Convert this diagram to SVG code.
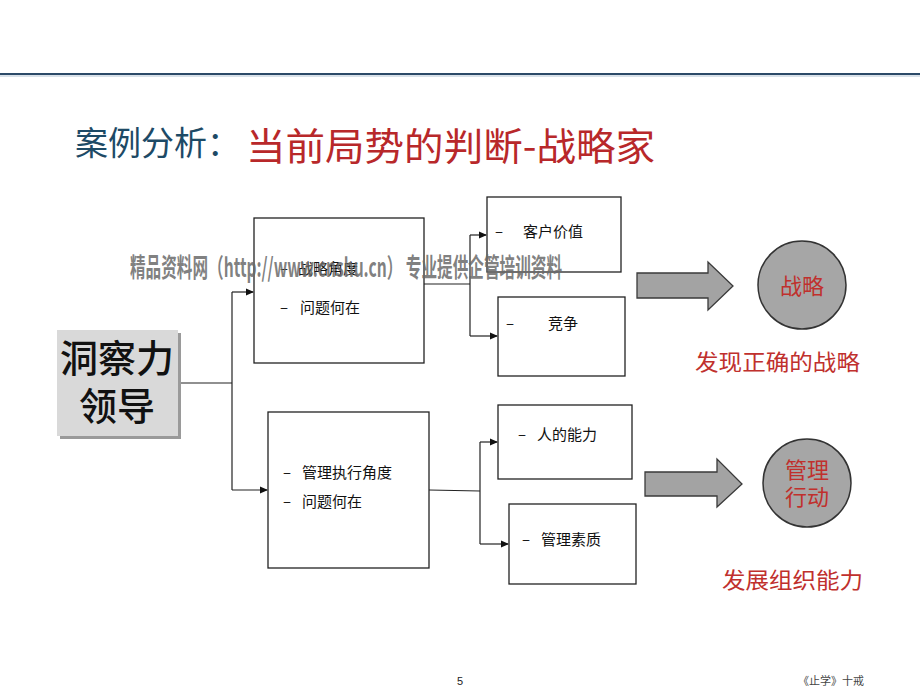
<svg xmlns="http://www.w3.org/2000/svg" width="920" height="690" viewBox="0 0 920 690">
<defs>
<marker id="ah" markerWidth="8" markerHeight="8" refX="7" refY="4" orient="auto" markerUnits="userSpaceOnUse">
<path d="M0,0.5 L8,4 L0,7.5 z" fill="#111"/>
</marker>
<style>
.cjk{font-family:"Noto Sans CJK SC","Liberation Sans",sans-serif;}
.box{fill:#fff;stroke:#222;stroke-width:1.3;}
.body{font-size:15px;fill:#111;}
.conn{fill:none;stroke:#222;stroke-width:1.2;}
.red{fill:#c0302d;}
.big{fill:#a3a3a3;stroke:#3a3a3a;stroke-width:1.3;}
</style>
</defs>
<rect width="920" height="690" fill="#fff"/>
<line x1="0" y1="74" x2="920" y2="74" stroke="#2c4a68" stroke-width="2.2"/>
<line x1="0" y1="76" x2="920" y2="76" stroke="#9fb4c8" stroke-width="0.8"/>

<g id="title" class="cjk">
<text x="75" y="155" font-size="33" fill="#1d4a66">案例分析：</text>
<text x="246" y="160" font-size="38" fill="#b8282a" textLength="409" lengthAdjust="spacingAndGlyphs">当前局势的判断-战略家</text>
</g>

<g id="connectors">
<polyline class="conn" points="178,383 232,383"/>
<polyline class="conn" points="232,292 232,490"/>
<polyline class="conn" points="232,292 253,292" marker-end="url(#ah)"/>
<polyline class="conn" points="232,490 267,490" marker-end="url(#ah)"/>
<polyline class="conn" points="424,284 470,284"/>
<polyline class="conn" points="470,235 470,336"/>
<polyline class="conn" points="470,235 486,235" marker-end="url(#ah)"/>
<polyline class="conn" points="470,336 497,336" marker-end="url(#ah)"/>
<polyline class="conn" points="429,490 480,491"/>
<polyline class="conn" points="480,442 480,544"/>
<polyline class="conn" points="480,442 497,442" marker-end="url(#ah)"/>
<polyline class="conn" points="480,544 508,544" marker-end="url(#ah)"/>
</g>

<g id="insight">
<rect x="60" y="333" width="121" height="106" fill="#9a9a9a"/>
<rect x="57" y="330" width="121" height="106" fill="#d9d9d9"/>
<text class="cjk" x="117" y="372" font-size="38" font-weight="500" text-anchor="middle" fill="#111">洞察力</text>
<text class="cjk" x="117" y="420" font-size="38" font-weight="500" text-anchor="middle" fill="#111">领导</text>
</g>

<g id="strategy-angle" class="cjk">
<rect class="box" x="254" y="218" width="170" height="145"/>
<text class="body" x="280" y="274">–</text>
<text class="body" x="298" y="274">战略角度</text>
<text class="body" x="280" y="313">–</text>
<text class="body" x="300" y="313">问题何在</text>
</g>

<g id="customer-value" class="cjk">
<rect class="box" x="487" y="197" width="134" height="75"/>
<text class="body" x="495" y="237">–</text>
<text class="body" x="523" y="237">客户价值</text>
</g>

<g id="competition" class="cjk">
<rect class="box" x="498" y="297" width="127" height="79"/>
<text class="body" x="506" y="329">–</text>
<text class="body" x="548" y="329">竞争</text>
</g>

<g id="mgmt-angle" class="cjk">
<rect class="box" x="268" y="412" width="161" height="156"/>
<text class="body" x="283" y="478">–</text>
<text class="body" x="302" y="478">管理执行角度</text>
<text class="body" x="283" y="507">–</text>
<text class="body" x="302" y="507">问题何在</text>
</g>

<g id="people-ability" class="cjk">
<rect class="box" x="498" y="405" width="134" height="74"/>
<text class="body" x="518" y="440">–</text>
<text class="body" x="537" y="440">人的能力</text>
</g>

<g id="mgmt-quality" class="cjk">
<rect class="box" x="509" y="504" width="127" height="80"/>
<text class="body" x="522" y="545">–</text>
<text class="body" x="541" y="545">管理素质</text>
</g>

<g id="arrow-top">
<path class="big" d="M637,273 L708,273 L708,262 L733,286 L708,310 L708,298 L637,298 z"/>
</g>
<g id="arrow-bottom">
<path class="big" d="M645,472 L717,472 L717,459 L742,484 L717,507 L717,496 L645,496 z"/>
</g>

<g id="strategy" class="cjk">
<circle cx="802" cy="285" r="44" fill="#a6a6a6" stroke="#333" stroke-width="1.5"/>
<text class="red" x="802" y="294" font-size="22" text-anchor="middle">战略</text>
<text class="red" x="695" y="370" font-size="22" textLength="165" lengthAdjust="spacingAndGlyphs">发现正确的战略</text>
</g>

<g id="mgmt-action" class="cjk">
<circle cx="807" cy="483" r="44" fill="#a6a6a6" stroke="#333" stroke-width="1.5"/>
<text class="red" x="807" y="478" font-size="22" text-anchor="middle">管理</text>
<text class="red" x="807" y="505" font-size="22" text-anchor="middle">行动</text>
<text class="red" x="722" y="588" font-size="22" textLength="141" lengthAdjust="spacingAndGlyphs">发展组织能力</text>
</g>

<g id="watermark">
<text x="130" y="277" font-family="'Noto Sans CJK SC','DejaVu Sans',sans-serif" font-weight="bold" font-size="26" fill="#6a6a6a" fill-opacity="0.85" textLength="432" lengthAdjust="spacingAndGlyphs">精品资料网（http://www.cnshu.cn） 专业提供企管培训资料</text>
</g>

<g id="footer">
<text x="457" y="685" font-family="'Liberation Sans',sans-serif" font-size="11" fill="#222">5</text>
<text x="798" y="685" font-family="'Liberation Serif','Noto Sans CJK SC',serif" font-size="11" fill="#444">《止学》十戒</text>
</g>
</svg>
